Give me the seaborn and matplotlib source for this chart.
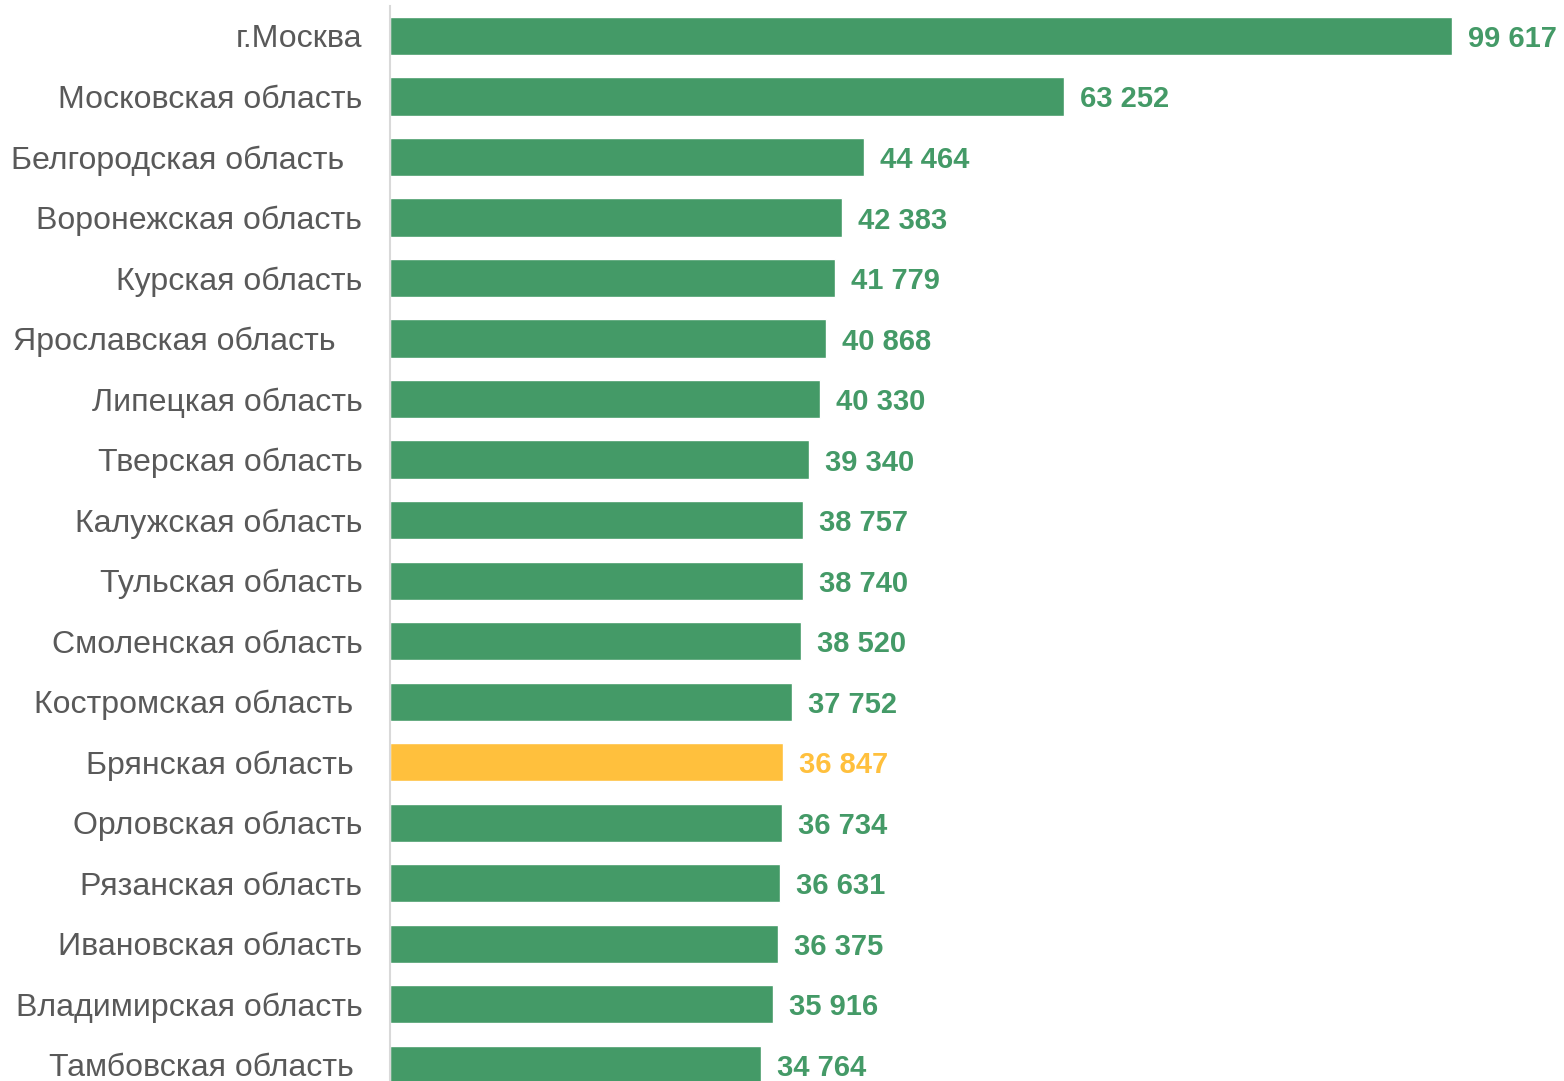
import matplotlib
matplotlib.use("Agg")

import matplotlib.pyplot as plt
import pandas as pd
import seaborn as sns

regions = [
    "г.Москва",
    "Московская область",
    "Белгородская область  ",
    "Воронежская область",
    "Курская область",
    "Ярославская область   ",
    "Липецкая область",
    "Тверская область",
    "Калужская область",
    "Тульская область",
    "Смоленская область",
    "Костромская область ",
    "Брянская область ",
    "Орловская область",
    "Рязанская область",
    "Ивановская область",
    "Владимирская область",
    "Тамбовская область ",
]
values = [99617, 63252, 44464, 42383, 41779, 40868, 40330, 39340, 38757,
          38740, 38520, 37752, 36847, 36734, 36631, 36375, 35916, 34764]
highlight = "Брянская область "

GREEN = "#449A67"
YELLOW = "#FFC03D"

df = pd.DataFrame({"region": regions, "value": values})
df["group"] = ["hl" if r == highlight else "base" for r in df["region"]]

sns.set_theme(style="white")
plt.rcParams["font.family"] = ["Liberation Sans", "DejaVu Sans"]

fig = plt.figure(figsize=(15.64, 10.81), dpi=100)
ax = fig.add_axes([0.2494, 0.0, 0.7506, 0.9947])

sns.barplot(data=df, x="value", y="region", hue="group",
            palette={"base": GREEN, "hl": YELLOW}, dodge=False,
            width=0.63, legend=False, ax=ax, saturation=1)

ax.set_xlim(0, 110150)
ax.set_ylim(17.27, -0.5)
ax.set_xlabel("")
ax.set_ylabel("")
ax.set_xticks([])
ax.tick_params(axis="y", length=0, pad=20, labelsize=23.1, labelcolor="#595959")
for lbl in ax.get_yticklabels():
    lbl.set_va("center_baseline")
for s in ["top", "right", "bottom"]:
    ax.spines[s].set_visible(False)
ax.spines["left"].set_color("#D9D9D9")
ax.spines["left"].set_linewidth(1.5)

# подписи значений справа от столбцов
for i, (r, v) in enumerate(zip(regions, values)):
    c = YELLOW if r == highlight else GREEN
    ax.annotate(f"{v:,}".replace(",", " "), xy=(v, i), xytext=(16, -3),
                textcoords="offset pixels",
                va="center", ha="left", fontsize=21, fontweight="bold",
                color=c, annotation_clip=False)

fig.savefig("out.png", dpi=100)
